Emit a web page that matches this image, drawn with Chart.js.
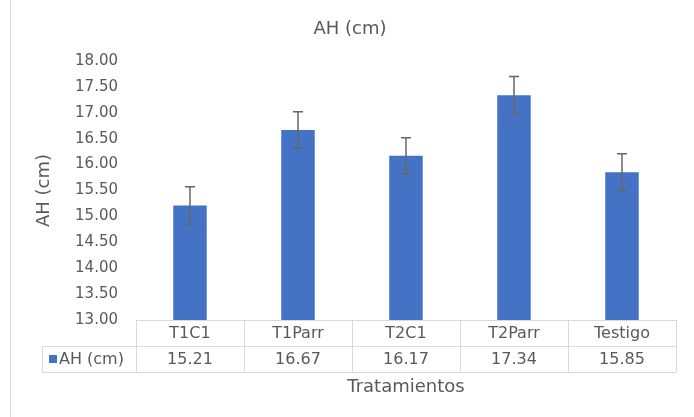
<!DOCTYPE html>
<html>
<head>
<meta charset="utf-8">
<script src="https://cdn.jsdelivr.net/npm/chart.js@4"></script>
<style>
  html, body { margin: 0; padding: 0; background: #fff; }
  #wrap { width: 694px; height: 417px; position: relative; }
</style>
</head>
<body>
<div id="wrap"><canvas id="myChart"></canvas></div>
<script>
const categories = ['T1C1', 'T1Parr', 'T2C1', 'T2Parr', 'Testigo'];
const ahValues = [15.21, 16.67, 16.17, 17.34, 15.85];
const ahErrors = [0.36, 0.35, 0.35, 0.36, 0.36];
const seriesName = 'AH (cm)';
const xTitle = 'Tratamientos';
const yMin = 13, yMax = 18, yStep = 0.5;

const FONT = 'DejaVu Sans';
const TXT = '#595959';
const BLUE = '#4472C4';
const BORDER = '#d9d9d9';

// barras de error
const errorBars = {
  id: 'errorBars',
  afterDatasetsDraw(chart) {
    const c = chart.ctx;
    const y = chart.scales.y;
    const meta = chart.getDatasetMeta(0);
    c.save();
    c.strokeStyle = '#666666';
    c.lineWidth = 1.5;
    meta.data.forEach((bar, i) => {
      const top = y.getPixelForValue(ahValues[i] + ahErrors[i]);
      const bot = y.getPixelForValue(ahValues[i] - ahErrors[i]);
      c.beginPath();
      c.moveTo(bar.x, top); c.lineTo(bar.x, bot);
      c.moveTo(bar.x - 5, top); c.lineTo(bar.x + 5, top);
      c.moveTo(bar.x - 5, bot); c.lineTo(bar.x + 5, bot);
      c.stroke();
    });
    c.restore();
  }
};

// tabla de datos debajo del grafico
const dataTable = {
  id: 'dataTable',
  afterDraw(chart) {
    const c = chart.ctx;
    const area = chart.chartArea;
    const x = chart.scales.x;
    const top = area.bottom, rowH = 26;
    const legLeft = 42;
    c.save();
    c.strokeStyle = BORDER;
    c.lineWidth = 1;
    c.beginPath();
    // borde izquierdo del grafico
    c.moveTo(10.5, 0); c.lineTo(10.5, 417);
    // lineas horizontales
    c.moveTo(area.left, top + 0.5); c.lineTo(area.right, top + 0.5);
    c.moveTo(legLeft, top + rowH + 0.5); c.lineTo(area.right, top + rowH + 0.5);
    c.moveTo(legLeft, top + 2 * rowH + 0.5); c.lineTo(area.right, top + 2 * rowH + 0.5);
    // lineas verticales
    c.moveTo(legLeft + 0.5, top + rowH); c.lineTo(legLeft + 0.5, top + 2 * rowH);
    const w = (area.right - area.left) / categories.length;
    for (let i = 0; i <= categories.length; i++) {
      const px = Math.round(area.left + i * w) + 0.5;
      c.moveTo(px, top); c.lineTo(px, top + 2 * rowH);
    }
    c.stroke();

    c.fillStyle = TXT;
    c.font = '16px "' + FONT + '"';
    c.textAlign = 'center';
    c.textBaseline = 'middle';
    categories.forEach((cat, i) => {
      const cx = x.getPixelForValue(i);
      c.fillText(cat, cx, top + rowH / 2 + 1);
      c.fillText(ahValues[i].toFixed(2), cx, top + rowH * 1.5 + 1);
    });
    // leyenda
    c.fillStyle = BLUE;
    c.fillRect(49, top + rowH + 9, 8, 8);
    c.fillStyle = TXT;
    c.textAlign = 'left';
    c.fillText(seriesName, 59, top + rowH * 1.5 + 1);
    // titulo eje x
    c.textAlign = 'center';
    c.font = '18px "' + FONT + '"';
    c.fillText(xTitle, (area.left + area.right) / 2, top + 2 * rowH + 15);
    c.restore();
  }
};

const ctx = document.getElementById('myChart');
const chart = new Chart(ctx, {
  type: 'bar',
  data: {
    labels: categories,
    datasets: [{
      label: seriesName,
      data: ahValues,
      backgroundColor: BLUE,
      borderWidth: 0,
      categoryPercentage: 1,
      barPercentage: 0.31
    }]
  },
  options: {
    responsive: true,
    maintainAspectRatio: false,
    animation: false,
    layout: { padding: { top: 0, left: 24, right: 18, bottom: 97 } },
    plugins: {
      legend: { display: false },
      tooltip: { enabled: false },
      title: {
        display: true,
        text: seriesName,
        color: TXT,
        font: { family: FONT, size: 18, weight: 'normal' },
        padding: { top: 19, bottom: 20.4 }
      }
    },
    scales: {
      x: {
        display: false
      },
      y: {
        min: yMin,
        max: yMax,
        afterFit(s) { s.width = 112; },
        grid: { display: false, drawTicks: false },
        border: { display: false },
        ticks: {
          stepSize: yStep,
          padding: 18,
          color: TXT,
          font: { family: FONT, size: 15 },
          callback: v => Number(v).toFixed(2)
        },
        title: {
          display: true,
          text: seriesName,
          color: TXT,
          font: { family: FONT, size: 18 },
          padding: { top: 10 }
        }
      }
    }
  },
  plugins: [errorBars, dataTable]
});
</script>
</body>
</html>
